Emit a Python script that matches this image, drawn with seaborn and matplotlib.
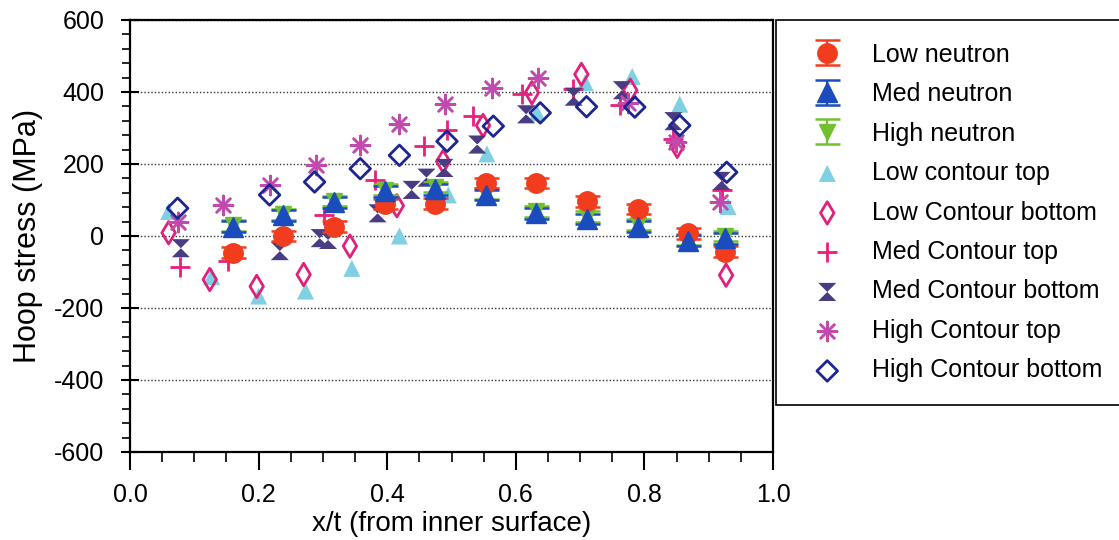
import numpy as np
import matplotlib
matplotlib.use("Agg")
import matplotlib.pyplot as plt
from matplotlib.ticker import MultipleLocator
import seaborn as sns

# neutron measurements (with error bars)
neutron_x = [0.160, 0.238, 0.317, 0.397, 0.475, 0.554, 0.632, 0.710, 0.790, 0.868, 0.925]
low_neutron = [-46, 0, 26, 89, 90, 147, 147, 96, 75, 7, -44]
med_neutron = [26, 57, 93, 124, 130, 114, 63, 47, 26, -13, -6]
high_neutron = [30, 60, 97, 128, 136, 117, 68, 53, 31, -10, 0]
neutron_err = 15

# contour measurements
low_top_x = [0.060, 0.127, 0.200, 0.273, 0.345, 0.419, 0.495, 0.555, 0.633, 0.708, 0.781, 0.855, 0.930]
low_top_y = [68, -113, -167, -153, -90, 0, 114, 228, 342, 426, 443, 366, 82]

low_bot_x = [0.060, 0.124, 0.197, 0.270, 0.342, 0.415, 0.487, 0.549, 0.625, 0.702, 0.778, 0.851, 0.927]
low_bot_y = [9, -121, -140, -107, -28, 84, 207, 307, 398, 449, 405, 249, -109]

med_top_x = [0.078, 0.153, 0.301, 0.381, 0.457, 0.493, 0.534, 0.609, 0.689, 0.762, 0.845, 0.920]
med_top_y = [-86, -70, 58, 156, 251, 294, 333, 394, 407, 364, 268, 128]

med_bot_x = [0.079, 0.233, 0.295, 0.308, 0.385, 0.438, 0.461, 0.489, 0.540, 0.616, 0.690, 0.765, 0.845, 0.920]
med_bot_y = [-34, -42, -6, -11, 63, 128, 162, 189, 254, 338, 387, 405, 319, 153]

high_top_x = [0.074, 0.145, 0.217, 0.289, 0.358, 0.419, 0.490, 0.563, 0.634, 0.775, 0.849, 0.918]
high_top_y = [38, 87, 142, 198, 254, 310, 366, 412, 440, 370, 262, 93]

high_bot_x = [0.074, 0.217, 0.287, 0.358, 0.419, 0.493, 0.565, 0.638, 0.710, 0.785, 0.855, 0.928]
high_bot_y = [77, 114, 150, 187, 224, 263, 305, 342, 359, 358, 307, 177]

legend_order = ["Low neutron", "Med neutron", "High neutron", "Low contour top",
                "Low Contour bottom", "Med Contour top", "Med Contour bottom",
                "High Contour top", "High Contour bottom"]

sns.set_style("ticks")
plt.rcParams["font.family"] = ["Liberation Sans", "DejaVu Sans"]
plt.rcParams["axes.unicode_minus"] = False
plt.rcParams["text.color"] = "black"
plt.rcParams["axes.labelcolor"] = "black"
plt.rcParams["xtick.color"] = "black"
plt.rcParams["ytick.color"] = "black"

fig = plt.figure(figsize=(11.19, 5.4), dpi=100)
ax = fig.add_axes([0.1162, 0.163, 0.5746, 0.800])

hourglass = [(-1, 1), (1, 1), (-1, -1), (1, -1), (-1, 1)]

# contour series
sns.scatterplot(x=low_top_x, y=low_top_y, marker="^", color="#7fd0e2", s=150,
                edgecolor="none", label="Low contour top", ax=ax, zorder=2)
sns.scatterplot(x=low_bot_x, y=low_bot_y, marker="d", color="#e0207a", s=130,
                label="Low Contour bottom", ax=ax, zorder=2)
ax.collections[-1].set_facecolor("none")
ax.collections[-1].set_edgecolor("#e0207a")
ax.collections[-1].set_linewidth(2.0)
sns.scatterplot(x=med_top_x, y=med_top_y, marker="+", color="#e8207a", s=190,
                linewidth=2.0, label="Med Contour top", ax=ax, zorder=2)
sns.scatterplot(x=med_bot_x, y=med_bot_y, marker=hourglass, color="#4a3c82", s=170,
                edgecolor="none", label="Med Contour bottom", ax=ax, zorder=2)
sns.scatterplot(x=high_top_x, y=high_top_y, marker=(8, 2, 0), color="#c04aae", s=190,
                linewidth=1.8, label="High Contour top", ax=ax, zorder=2)
sns.scatterplot(x=high_bot_x, y=high_bot_y, marker="D", color="#1c2590", s=110,
                label="High Contour bottom", ax=ax, zorder=2)
ax.collections[-1].set_facecolor("none")
ax.collections[-1].set_edgecolor("#1c2590")
ax.collections[-1].set_linewidth(2.0)

# neutron series with error bars
eb_kw = dict(yerr=neutron_err, capsize=9, elinewidth=1.6, capthick=1.8, ls="none", zorder=3)
ax.errorbar(neutron_x, high_neutron, fmt="v", ms=12, color="#72c032", label="High neutron", **eb_kw)
ax.errorbar(neutron_x, low_neutron, fmt="o", ms=14, color="#f23c1e", label="Low neutron", **eb_kw)
ax.errorbar(neutron_x, med_neutron, fmt="^", ms=14, color="#1a4cbe", label="Med neutron", **eb_kw)

ax.set_xlim(0, 1)
ax.set_ylim(-600, 600)
ax.xaxis.set_major_locator(MultipleLocator(0.2))
ax.xaxis.set_minor_locator(MultipleLocator(0.05))
ax.yaxis.set_major_locator(MultipleLocator(200))
ax.yaxis.set_minor_locator(MultipleLocator(40))
ax.set_xticklabels([f"{v:.1f}" for v in ax.get_xticks()])
ax.yaxis.grid(True, which="major", linestyle=(0, (1, 1.5)), color="#333333", linewidth=1.0)
ax.set_axisbelow(True)

ax.tick_params(axis="x", which="major", direction="out", length=13, width=1.5, labelsize=18, pad=9)
ax.tick_params(axis="x", which="minor", direction="out", length=7, width=1.2)
ax.tick_params(axis="y", which="major", direction="inout", length=13, width=1.5, labelsize=18, pad=12)
ax.tick_params(axis="y", which="minor", direction="out", length=6, width=1.2)
for sp in ax.spines.values():
    sp.set_visible(True)
    sp.set_linewidth(1.6)
    sp.set_color("black")

ax.set_xlabel("x/t (from inner surface)", fontsize=20, labelpad=3)
ax.set_ylabel("Hoop stress (MPa)", fontsize=22, labelpad=8)

handles, labels = ax.get_legend_handles_labels()
lookup = dict(zip(labels, handles))
if ax.legend_:
    ax.legend_.remove()
fig.legend([lookup[l] for l in legend_order], legend_order,
           loc="upper left", bbox_to_anchor=(776 / 1119, 1 - 20 / 540),
           fontsize=18, frameon=True, fancybox=False, edgecolor="black",
           framealpha=1, borderpad=0.9, handlelength=2.3, handletextpad=0.65,
           labelspacing=0.62, borderaxespad=0)
fig.legends[-1].get_frame().set_linewidth(1.2)

fig.savefig("out.png", dpi=100)
